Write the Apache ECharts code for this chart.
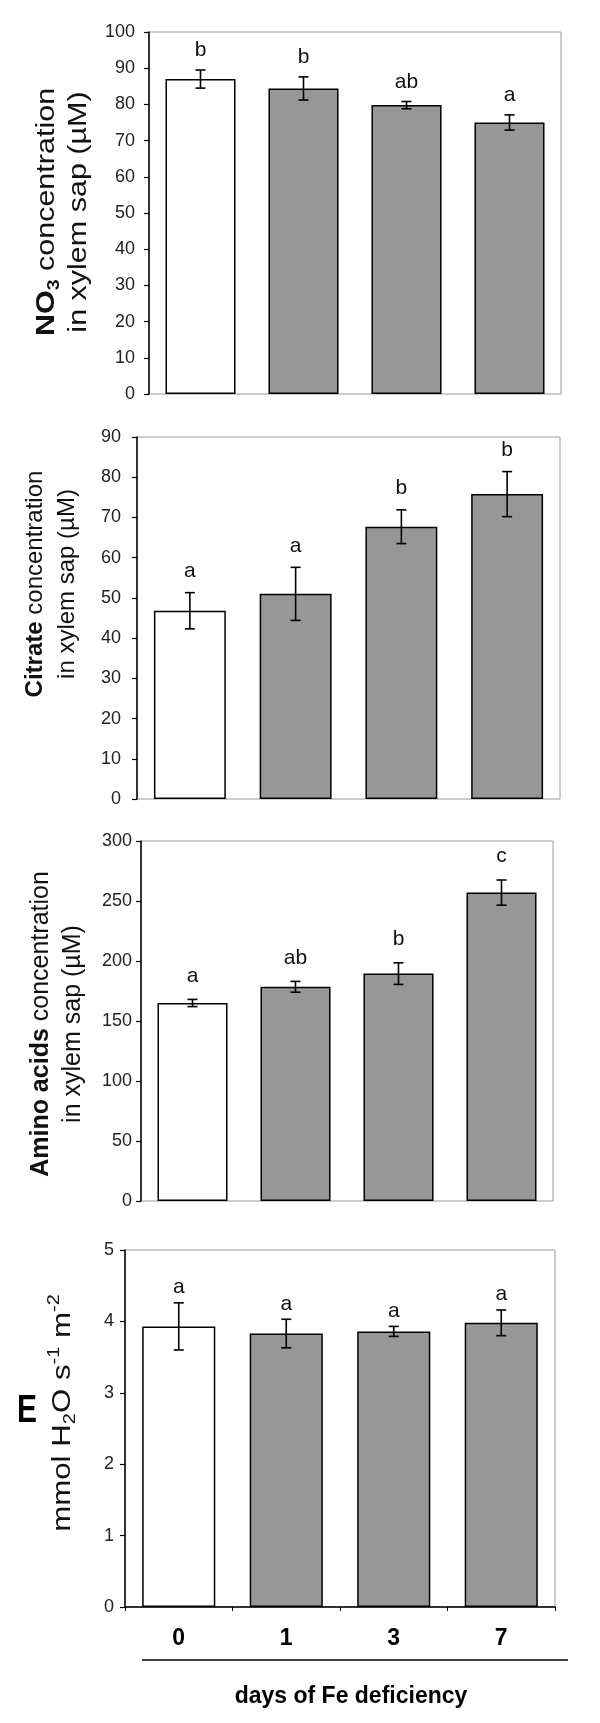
<!DOCTYPE html>
<html>
<head>
<meta charset="utf-8">
<script src="https://cdn.jsdelivr.net/npm/echarts@6/dist/echarts.min.js"></script>
<style>
  html, body { margin: 0; padding: 0; background: #fff; }
  #chart { width: 600px; height: 1723px; }
</style>
</head>
<body>
<div id="chart"></div>
<script>
// days of Fe deficiency
const days = ["0", "1", "3", "7"];

// NO3 concentration in xylem sap (uM)
const nitrate = [87.0, 84.4, 79.8, 75.0];
const nitrateErr = [2.5, 3.2, 1.0, 2.1];
const nitrateLetters = ["b", "b", "ab", "a"];

// citrate concentration in xylem sap (uM)
const citrate = [46.8, 51.0, 67.7, 75.8];
const citrateErr = [4.5, 6.6, 4.2, 5.6];
const citrateLetters = ["a", "a", "b", "b"];

// amino acids concentration in xylem sap (uM)
const aminoAcids = [165, 178.5, 189.5, 257];
const aminoErr = [3, 4.5, 9, 10.5];
const aminoLetters = ["a", "ab", "b", "c"];

// E, mmol H2O s-1 m-2
const transpiration = [3.93, 3.83, 3.86, 3.98];
const transpErr = [0.33, 0.2, 0.07, 0.18];
const transpLetters = ["a", "a", "a", "a"];

// y axis ranges
const yMax = [100, 90, 300, 5];
const yStep = [10, 10, 50, 1];

const FONT = "'Liberation Sans', Arial, sans-serif";
const panels = [
  { values: nitrate, err: nitrateErr, letters: nitrateLetters, gap: 9, labelMargin: 14 },
  { values: citrate, err: citrateErr, letters: citrateLetters, gap: 11, labelMargin: 16 },
  { values: aminoAcids, err: aminoErr, letters: aminoLetters, gap: 13, labelMargin: 9 },
  { values: transpiration, err: transpErr, letters: transpLetters, gap: 5, labelMargin: 11 }
];

const grids = [
  { left: 149, top: 32, width: 412, height: 362 },
  { left: 137, top: 437, width: 423, height: 362 },
  { left: 141, top: 841, width: 412, height: 360 },
  { left: 125, top: 1250, width: 430, height: 357 }
];

const chart = echarts.init(document.getElementById("chart"));

function richFor(fs) {
  return {
    b: { fontFamily: FONT, fontWeight: "bold", fontSize: fs, lineHeight: 32, fill: "#111" },
    n: { fontFamily: FONT, fontSize: fs, lineHeight: 32, fill: "#111" },
    bsub: { fontFamily: FONT, fontWeight: "bold", fontSize: Math.round(fs * 0.62), lineHeight: 12, verticalAlign: "bottom", fill: "#111" },
    sub: { fontFamily: FONT, fontSize: Math.round(fs * 0.62), lineHeight: 12, verticalAlign: "bottom", fill: "#111" },
    sup: { fontFamily: FONT, fontSize: Math.round(fs * 0.62), lineHeight: 20, verticalAlign: "top", fill: "#111" }
  };
}

function titleText(x, y, fs, stretch, text) {
  return {
    type: "text",
    x: x,
    y: y,
    rotation: Math.PI / 2,
    scaleX: stretch,
    style: {
      text: text,
      align: "center",
      verticalAlign: "middle",
      rich: richFor(fs)
    }
  };
}

function errorRender(p) {
  return function (params, api) {
    const i = api.value(0);
    const top = api.coord([i, api.value(1) + api.value(2)]);
    const low = api.coord([i, api.value(1) - api.value(2)]);
    const cx = top[0];
    const ls = { stroke: "#000", lineWidth: 1.6 };
    return {
      type: "group",
      children: [
        { type: "line", shape: { x1: cx, y1: top[1], x2: cx, y2: low[1] }, style: ls },
        { type: "line", shape: { x1: cx - 5, y1: top[1], x2: cx + 5, y2: top[1] }, style: ls },
        { type: "line", shape: { x1: cx - 5, y1: low[1], x2: cx + 5, y2: low[1] }, style: ls },
        {
          type: "text",
          x: cx,
          y: top[1] - p.gap,
          style: {
            text: p.letters[i],
            fontFamily: FONT,
            fontSize: 21,
            fill: "#111",
            align: "center",
            verticalAlign: "bottom"
          }
        }
      ]
    };
  };
}

const xAxes = grids.map((g, k) => {
  const last = k === grids.length - 1;
  return {
    type: "category",
    gridIndex: k,
    data: days,
    axisLine: { show: last, lineStyle: { color: "#000", width: 1.5 } },
    axisTick: { show: last, length: 4, lineStyle: { color: "#000" } },
    axisLabel: {
      show: last,
      margin: 20,
      fontFamily: FONT,
      fontWeight: "bold",
      fontSize: 23,
      color: "#000"
    }
  };
});

const yAxes = grids.map((g, k) => ({
  type: "value",
  gridIndex: k,
  min: 0,
  max: yMax[k],
  interval: yStep[k],
  splitLine: { show: false },
  axisLine: { show: true, lineStyle: { color: "#000", width: 1.5 } },
  axisTick: { show: true, length: 5, lineStyle: { color: "#000", width: 1.2 } },
  axisLabel: {
    margin: panels[k].labelMargin,
    fontFamily: FONT,
    fontSize: 18,
    color: "#222"
  }
}));

const series = [];
panels.forEach((p, k) => {
  series.push({
    type: "bar",
    xAxisIndex: k,
    yAxisIndex: k,
    data: p.values,
    barWidth: "68%",
    itemStyle: {
      color: (d) => (d.dataIndex === 0 ? "#ffffff" : "#979797"),
      borderColor: "#000",
      borderWidth: 1.5
    }
  });
  series.push({
    type: "custom",
    xAxisIndex: k,
    yAxisIndex: k,
    data: p.values.map((v, i) => [i, v, p.err[i]]),
    renderItem: errorRender(p),
    z: 5
  });
});

chart.setOption({
  animation: false,
  grid: grids.map((g) => Object.assign({ show: true, borderColor: "#9a9a9a", borderWidth: 1 }, g)),
  xAxis: xAxes,
  yAxis: yAxes,
  series: series,
  graphic: [
    titleText(63, 212, 25, 1.22, "{b|NO}{bsub|3}{n| concentration}\n{n|in xylem sap (µM)}"),
    titleText(51, 584, 24, 1.0, "{b|Citrate}{n| concentration}\n{n|in xylem sap (µM)}"),
    titleText(57, 1024, 25, 1.0, "{b|Amino acids}{n| concentration}\n{n|in xylem sap (µM)}"),
    titleText(63, 1413, 25, 1.25, "{n|mmol H}{sub|2}{n|O s}{sup|-1}{n| m}{sup|-2}"),
    {
      type: "text",
      x: 27,
      y: 1411,
      scaleY: 1.3,
      style: {
        text: "E",
        fontFamily: FONT,
        fontWeight: "bold",
        fontSize: 30,
        fill: "#000",
        align: "center",
        verticalAlign: "middle"
      }
    },
    {
      type: "line",
      shape: { x1: 142, y1: 1660, x2: 568, y2: 1660 },
      style: { stroke: "#000", lineWidth: 1.5 }
    },
    {
      type: "text",
      x: 351,
      y: 1697,
      style: {
        text: "days of Fe deficiency",
        fontFamily: FONT,
        fontWeight: "bold",
        fontSize: 23,
        fill: "#000",
        align: "center",
        verticalAlign: "middle"
      }
    }
  ]
});
</script>
</body>
</html>
